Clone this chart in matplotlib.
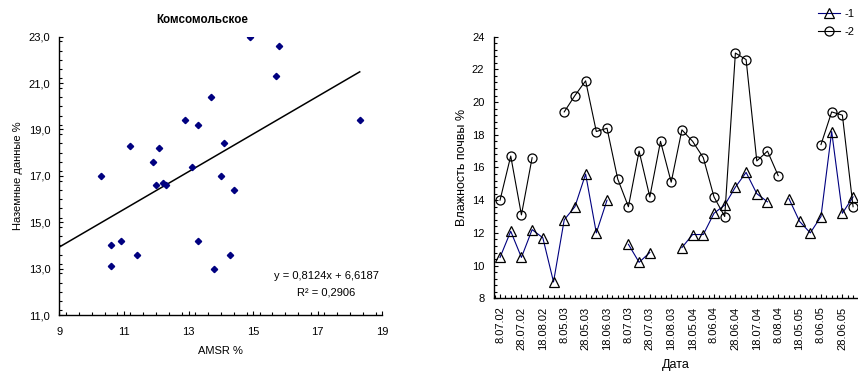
import matplotlib

matplotlib.use("Agg")
import matplotlib.pyplot as plt
import numpy as np
from matplotlib.ticker import FixedLocator, MultipleLocator

plt.rcParams["font.family"] = ["Liberation Sans", "DejaVu Sans"]
plt.rcParams["font.size"] = 8

# Satellite (AMSR) vs ground soil moisture, %
amsr = [10.3, 10.6, 10.6, 10.9, 11.2, 11.4, 11.9, 12.0, 12.1, 12.2, 12.3, 12.9, 13.1,
        13.3, 13.3, 13.7, 13.8, 14.0, 14.1, 14.3, 14.4, 14.9, 15.7, 15.8, 18.3]
ground = [17.0, 14.0, 13.1, 14.2, 18.3, 13.6, 17.6, 16.6, 18.2, 16.7, 16.6, 19.4, 17.4,
          19.2, 14.2, 20.4, 13.0, 17.0, 18.4, 13.6, 16.4, 23.0, 21.3, 22.6, 19.4]
trend_slope = 0.8124
trend_intercept = 6.6187
trend_r2 = 0.2906

# Soil moisture time series, every second date is labelled
date_labels = ["8.07.02", "28.07.02", "18.08.02", "8.05.03", "28.05.03", "18.06.03",
               "8.07.03", "28.07.03", "18.08.03", "18.05.04", "8.06.04", "28.06.04",
               "18.07.04", "8.08.04", "18.05.05", "8.06.05", "28.06.05"]
nan = np.nan
series_1 = [10.5, 12.1, 10.5, 12.2, 11.7, 9.0, 12.8, 13.6, 15.6, 12.0, 14.0, nan,
            11.3, 10.2, 10.8, nan, nan, 11.1, 11.9, 11.9, 13.2, 13.7, 14.8, 15.7,
            14.4, 13.9, nan, 14.1, 12.7, 12.0, 13.0, 18.2, 13.2, 14.2]
series_2 = [14.0, 16.7, 13.1, 16.6, nan, nan, 19.4, 20.4, 21.3, 18.2, 18.4, 15.3,
            13.6, 17.0, 14.2, 17.6, 15.1, 18.3, 17.6, 16.6, 14.2, 13.0, 23.0, 22.6,
            16.4, 17.0, 15.5, nan, nan, nan, 17.4, 19.4, 19.2, 13.6]
series_names = ["-1", "-2"]


def comma_label(value: float) -> str:
    return f"{value:.1f}".replace(".", ",")


fig = plt.figure(figsize=(8.58, 3.71), dpi=100)

# --- scatter with linear trend ---
ax_sc = fig.add_axes([0.0691, 0.1509, 0.3765, 0.7501])
ax_sc.plot(amsr, ground, linestyle="none", marker="D", markersize=3.2,
           color="#000080", zorder=3)
trend_x = np.array([9.0, max(amsr)])
ax_sc.plot(trend_x, trend_slope * trend_x + trend_intercept, color="black", linewidth=1.1)

ax_sc.set_xlim(9, 19)
ax_sc.set_ylim(11, 23)
ax_sc.xaxis.set_major_locator(FixedLocator(np.arange(9, 20, 2)))
ax_sc.xaxis.set_minor_locator(MultipleLocator(0.4))
y_major = np.arange(11, 24, 2)
ax_sc.yaxis.set_major_locator(FixedLocator(y_major))
ax_sc.set_yticklabels([comma_label(v) for v in y_major])
ax_sc.yaxis.set_minor_locator(MultipleLocator(0.4))
ax_sc.tick_params(which="major", direction="in", length=3, width=0.8)
ax_sc.tick_params(which="minor", direction="in", length=2, width=0.8)
ax_sc.tick_params(axis="y", which="both", pad=6.5)
ax_sc.tick_params(axis="x", which="both", pad=8.5)
for side in ("top", "right"):
    ax_sc.spines[side].set_visible(False)
for side in ("left", "bottom"):
    ax_sc.spines[side].set_linewidth(1.0)

ax_sc.set_xlabel("AMSR %")
ax_sc.xaxis.set_label_coords(0.5, -0.111)
ax_sc.set_ylabel("Наземные данные %")
ax_sc.yaxis.set_label_coords(-0.111, 0.5)

sign = "+" if trend_intercept >= 0 else "-"
equation = (f"y = {trend_slope:.4f}x {sign} {abs(trend_intercept):.4f}").replace(".", ",")
ax_sc.text(0.826, 0.140, equation, transform=ax_sc.transAxes, ha="center", va="center")
ax_sc.text(0.826, 0.0816, f"R² = {trend_r2:.4f}".replace(".", ","),
           transform=ax_sc.transAxes, ha="center", va="center")
fig.text(0.2354, 0.946, "Комсомольское", ha="center", va="center", fontweight="bold",
         fontsize=8.4)

# --- time series ---
ax_ts = fig.add_axes([0.5758, 0.196, 0.4242, 0.7051])
idx = np.arange(len(series_1))
ax_ts.plot(idx, series_1, color="#000080", linewidth=0.8, marker="^", markersize=7,
           markerfacecolor="none", markeredgecolor="black", markeredgewidth=0.9,
           label=series_names[0])
ax_ts.plot(idx, series_2, color="black", linewidth=0.8, marker="o", markersize=6.5,
           markerfacecolor="none", markeredgecolor="black", markeredgewidth=0.9,
           label=series_names[1])

ax_ts.set_xlim(-0.56, 33.46)
ax_ts.set_ylim(8, 24)
ax_ts.xaxis.set_major_locator(FixedLocator(idx[::2]))
ax_ts.set_xticklabels(date_labels, rotation=90)
ax_ts.xaxis.set_minor_locator(MultipleLocator(0.5))
ax_ts.yaxis.set_major_locator(MultipleLocator(2))
ax_ts.yaxis.set_minor_locator(MultipleLocator(0.4))
ax_ts.tick_params(which="major", direction="in", length=3, width=0.8)
ax_ts.tick_params(which="minor", direction="in", length=2, width=0.8)
ax_ts.tick_params(axis="y", which="both", pad=7)
ax_ts.tick_params(axis="x", which="both", pad=6)
for side in ("top", "right"):
    ax_ts.spines[side].set_visible(False)
for side in ("left", "bottom"):
    ax_ts.spines[side].set_linewidth(1.0)

ax_ts.set_xlabel("Дата", fontsize=9)
ax_ts.xaxis.set_label_coords(0.5, -0.232)
ax_ts.set_ylabel("Влажность почвы %", fontsize=9)
ax_ts.yaxis.set_label_coords(-0.071, 0.5)

fig.legend(loc="upper left", bbox_to_anchor=(0.9534, 0.976), frameon=False,
           borderpad=0, borderaxespad=0, handlelength=2, handletextpad=0.4,
           labelspacing=0.7, fontsize=8)

fig.savefig("out.png", dpi=100)
